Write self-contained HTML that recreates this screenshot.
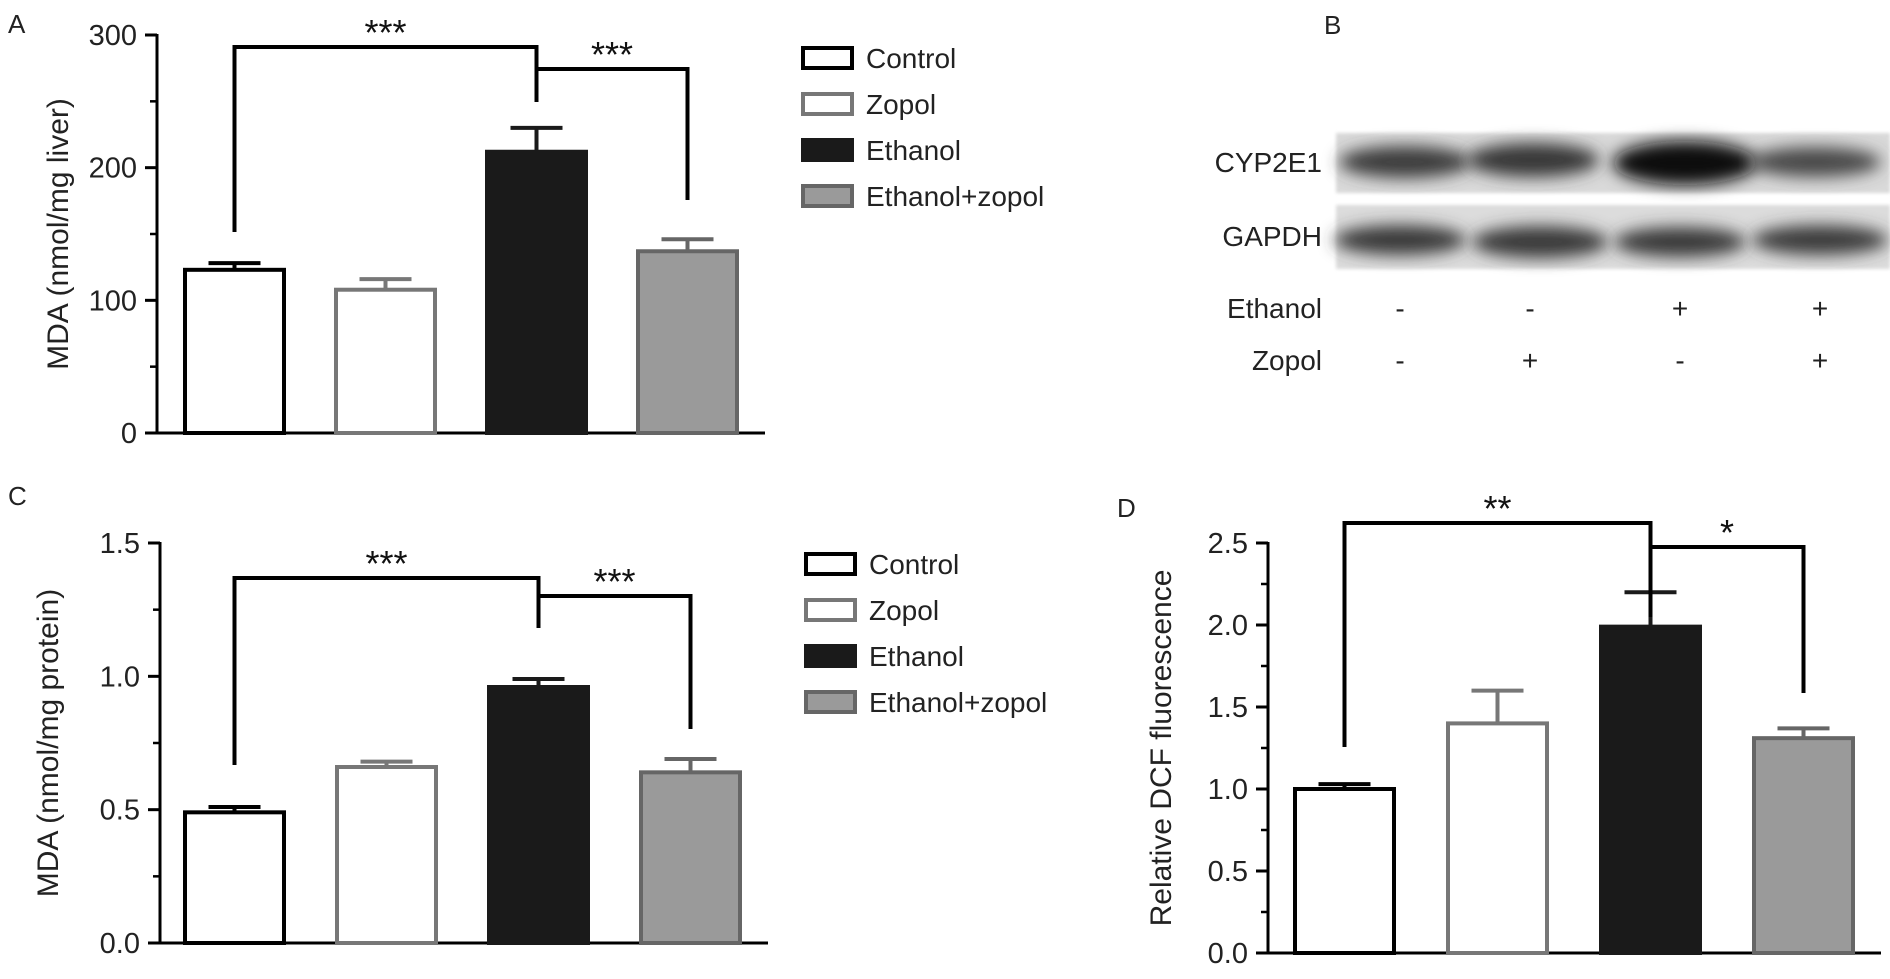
<!DOCTYPE html>
<html><head><meta charset="utf-8"><style>
html,body{margin:0;padding:0;background:#fff}
svg{display:block;font-family:"Liberation Sans",sans-serif}
</style></head><body>
<svg id="s" width="1890" height="979" viewBox="0 0 1890 979">
<defs><filter id="blur" x="-30%" y="-80%" width="160%" height="260%"><feGaussianBlur stdDeviation="8"/></filter>
<filter id="blur2"><feGaussianBlur stdDeviation="1.5"/></filter></defs>
<g id="blot">
<rect x="1336" y="133" width="554" height="60" fill="#d9d9d9" filter="url(#blur2)"/>
<rect x="1336" y="205" width="554" height="64" fill="#dcdcdc" filter="url(#blur2)"/>
<ellipse cx="1405" cy="162" rx="66" ry="16" fill="#3c3c3c" filter="url(#blur)"/>
<ellipse cx="1533" cy="160" rx="66" ry="17" fill="#383838" filter="url(#blur)"/>
<ellipse cx="1685" cy="163" rx="72" ry="22" fill="#0e0e0e" filter="url(#blur)"/>
<ellipse cx="1815" cy="162" rx="66" ry="15" fill="#4a4a4a" filter="url(#blur)"/>
<ellipse cx="1400" cy="240" rx="66" ry="15" fill="#3a3a3a" filter="url(#blur)"/>
<ellipse cx="1540" cy="242" rx="68" ry="16" fill="#3a3a3a" filter="url(#blur)"/>
<ellipse cx="1680" cy="242" rx="66" ry="15" fill="#3a3a3a" filter="url(#blur)"/>
<ellipse cx="1820" cy="240" rx="68" ry="15" fill="#3e3e3e" filter="url(#blur)"/>
</g>
</svg>
<script>
const categories=["Control","Zopol","Ethanol","Ethanol+zopol"];
const valuesA=[123,108,212,137];
const errorsA=[128,116,230,146];
const valuesC=[0.49,0.66,0.96,0.64];
const errorsC=[0.51,0.68,0.99,0.69];
const valuesD=[1.0,1.4,1.99,1.31];
const errorsD=[1.03,1.6,2.2,1.37];
const ticksA=["0","100","200","300"];
const ticksC=["0.0","0.5","1.0","1.5"];
const ticksD=["0.0","0.5","1.0","1.5","2.0","2.5"];
const blotRows=["CYP2E1","GAPDH"];
const ethanolSigns=["-","-","+","+"];
const zopolSigns=["-","+","-","+"];

const NS="http://www.w3.org/2000/svg";const S=document.getElementById('s');
function mk(t,a,p,txt){const e=document.createElementNS(NS,t);for(const k in a)e.setAttribute(k,a[k]);if(txt!==undefined)e.textContent=txt;(p||S).appendChild(e);return e;}
const fills=["#fff","#fff","#1a1a1a","#9a9a9a"];
const strokes=["#000","#777","#1a1a1a","#666"];

function panel(o){
  const g=mk('g',{});
  
  
  const y=v=>o.y0-(v-o.min)/(o.max-o.min)*(o.y0-o.y1);
  const xEnd=o.bx+o.pitch*3+o.bw+26;
  const ya=mk('line',{x1:o.x0,y1:o.y1-1,x2:o.x0,y2:o.y0,stroke:'#000','stroke-width':3},g);
  
  const xa=mk('line',{x1:o.x0-12,y1:o.y0,x2:xEnd,y2:o.y0,stroke:'#000','stroke-width':3},g);
  
  o.ticks.forEach((t,i)=>{const v=parseFloat(t),yy=y(v);
    mk('line',{x1:o.x0-12,y1:yy,x2:o.x0,y2:yy,stroke:'#000','stroke-width':3},g);
    if(i<o.ticks.length-1){const ym=y(v+(parseFloat(o.ticks[1])-parseFloat(o.ticks[0]))/2);
      mk('line',{x1:o.x0-7,y1:ym,x2:o.x0,y2:ym,stroke:'#000','stroke-width':2.5},g);}
    const tl=mk('text',{x:o.x0-20,y:yy+10,'text-anchor':'end','font-size':29,fill:'#222'},g,t);
    });
  const yl=mk('text',{transform:`translate(${o.ylx},${(o.y0+o.y1)/2}) rotate(-90)`,'text-anchor':'middle','font-size':30,fill:'#222'},g,o.ylab);
  
  const cx=[];
  o.vals.forEach((v,i)=>{const x=o.bx+i*o.pitch;cx.push(x+o.bw/2);
    const ey=y(o.errs[i]);
    mk('line',{x1:x+o.bw/2,y1:ey,x2:x+o.bw/2,y2:y(v),stroke:strokes[i],'stroke-width':4},g);
    mk('line',{x1:x+o.bw/2-26,y1:ey,x2:x+o.bw/2+26,y2:ey,stroke:strokes[i],'stroke-width':4},g);
    const b=mk('rect',{x:x+2,y:y(v),width:o.bw-4,height:o.y0-y(v),fill:fills[i],stroke:strokes[i],'stroke-width':4},g);
    
    });
  const br=o.br;
  const b1=mk('polyline',{points:`${cx[0]},${br[0]} ${cx[0]},${br[1]} ${cx[2]},${br[1]} ${cx[2]},${br[2]}`,fill:'none',stroke:'#000','stroke-width':4},g);
  
  const b2=mk('polyline',{points:`${cx[2]},${br[3]} ${cx[3]},${br[3]} ${cx[3]},${br[4]}`,fill:'none',stroke:'#000','stroke-width':4},g);
  
  const s1=mk('text',{x:(cx[0]+cx[2])/2,y:br[1]-2,'text-anchor':'middle','font-size':36,fill:'#111'},g,o.st[0]);
  
  const s2=mk('text',{x:(cx[2]+cx[3])/2,y:br[3]-2,'text-anchor':'middle','font-size':36,fill:'#111'},g,o.st[1]);
  
  const pl=mk('text',{x:o.lx,y:o.ly,'font-size':26,fill:'#222'},g,o.letter);
  
  if(o.legY){categories.forEach((c,i)=>{const ly=o.legY+i*46;
    const e=mk('g',{},g);
    mk('rect',{x:o.legX,y:ly-10,width:49,height:20,fill:fills[i],stroke:strokes[i],'stroke-width':4},e);
    mk('text',{x:o.legX+63,y:ly+10,'font-size':28,fill:'#222'},e,c);});}
}
panel({name:'panel-a-chart',letter:'A',lx:8,ly:33,x0:157,y0:433,y1:35,min:0,max:300,bx:183,pitch:151,bw:103,vals:valuesA,errs:errorsA,ticks:ticksA,ylab:'MDA (nmol/mg liver)',ylx:68,br:[232,47,102,69,200],st:['***','***'],legX:803,legY:58});
panel({name:'panel-c-chart',letter:'C',lx:8,ly:505,x0:160,y0:943,y1:543,min:0,max:1.5,bx:183,pitch:152,bw:103,vals:valuesC,errs:errorsC,ticks:ticksC,ylab:'MDA (nmol/mg protein)',ylx:58,br:[765,578,628,596,729],st:['***','***'],legX:806,legY:564});
panel({name:'panel-d-chart',letter:'D',lx:1117,ly:517,x0:1268,y0:953,y1:543,min:0,max:2.5,bx:1293,pitch:153,bw:103,vals:valuesD,errs:errorsD,ticks:ticksD,ylab:'Relative DCF fluorescence',ylx:1171,br:[747,523,617,547,693],st:['**','*']});
const gb=mk('g',{});
const bl=mk('text',{x:1324,y:34,'font-size':26,fill:'#222'},gb,'B');
blotRows.forEach((r,i)=>{const t=mk('text',{x:1322,y:172+i*74,'text-anchor':'end','font-size':28,fill:'#222'},gb,r);
  });
const te=mk('text',{x:1322,y:318,'text-anchor':'end','font-size':28,fill:'#222'},gb,'Ethanol');
const tz=mk('text',{x:1322,y:370,'text-anchor':'end','font-size':28,fill:'#222'},gb,'Zopol');
const laneX=[1400,1530,1680,1820];
ethanolSigns.forEach((s,i)=>{const t=mk('text',{x:laneX[i],y:318,'text-anchor':'middle','font-size':28,fill:'#222'},gb,s);});
zopolSigns.forEach((s,i)=>{const t=mk('text',{x:laneX[i],y:370,'text-anchor':'middle','font-size':28,fill:'#222'},gb,s);});
</script>
</body></html>
